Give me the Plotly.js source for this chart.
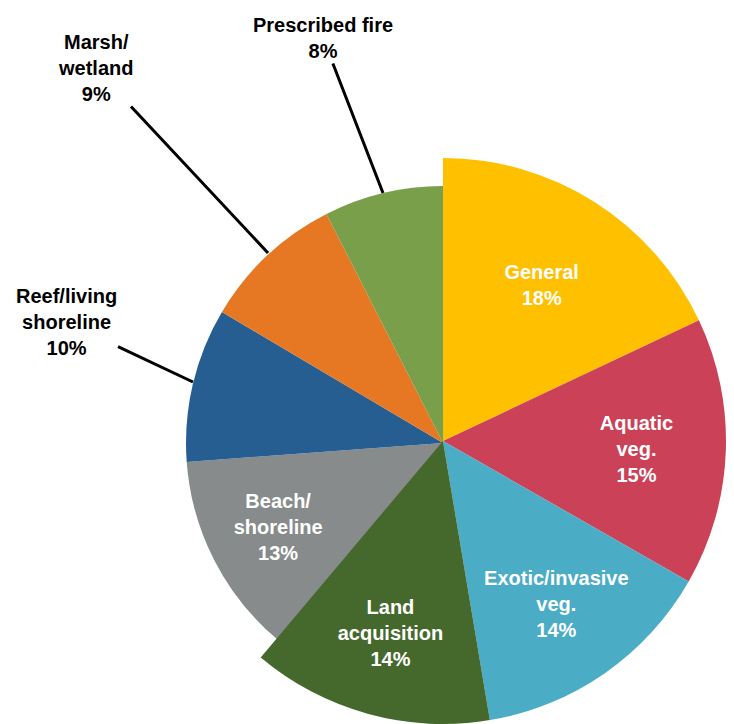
<!DOCTYPE html>
<html>
<head>
<meta charset="utf-8">
<script src="https://cdn.plot.ly/plotly-3.0.1.min.js"></script>
<style>html,body{margin:0;padding:0;background:#fff;}#chart{width:734px;height:724px;}</style>
</head>
<body>
<div id="chart"></div>
<script>
// Slice categories (clockwise from 12 o'clock)
const categories = ["General", "Aquatic<br>veg.", "Exotic/invasive<br>veg.", "Land<br>acquisition",
                    "Beach/<br>shoreline", "Reef/living<br>shoreline", "Marsh/<br>wetland", "Prescribed fire"];
// Shares (%); labels show them rounded
const shares = [18.0, 15.3, 14.1, 13.8, 12.7, 9.7, 9.0, 7.5];
const sliceColors = ["#FFC000", "#CB4157", "#4BACC6", "#45692C", "#878B8B", "#265E91", "#E67823", "#7A9F4B"];
// Which slices reach the larger radius
const largeSlice = [true, true, true, true, false, false, false, false];
// Which slices carry their label inside the slice
const insideLabel = [true, true, true, true, true, false, false, false];

const W = 734, H = 724;
const cx = 443, cy = 443;
const rBig = 285, rSmall = 257;

function domainFor(r) {
  const top = cy - r, bottom = Math.min(cy + r, H);
  return {
    x: [(cx - r) / W, Math.min(cx + r, W) / W],
    y: [1 - bottom / H, 1 - top / H]
  };
}

function makePie(isBig) {
  return {
    type: 'pie',
    labels: categories,
    values: shares,
    sort: false,
    direction: 'clockwise',
    rotation: 0,
    domain: domainFor(isBig ? rBig : rSmall),
    marker: {
      colors: sliceColors.map((c, i) => (largeSlice[i] === isBig) ? c : 'rgba(0,0,0,0)'),
      line: {width: 0}
    },
    texttemplate: categories.map((c, i) =>
      (largeSlice[i] === isBig && insideLabel[i]) ? '%{label}<br>%{value:.0f}%' : ''),
    textposition: 'inside',
    insidetextorientation: 'horizontal',
    insidetextfont: {family: 'Liberation Sans, Arial, sans-serif', size: 20, color: '#ffffff', weight: 'bold'},
    hoverinfo: 'skip',
    showlegend: false
  };
}

// Outside labels with leader lines: [category index, label centre px, line end px]
const outsideLabels = [
  [5, [66, 322], [193, 382]],
  [6, [95, 68], [268, 253]],
  [7, [323, 38], [383, 193]]
];

const annotations = outsideLabels.map(([i, c, tip]) => ({
  xref: 'paper', yref: 'paper',
  x: tip[0] / W, y: 1 - tip[1] / H,
  ax: c[0] - tip[0], ay: c[1] - tip[1],
  axref: 'pixel', ayref: 'pixel',
  text: categories[i] + '<br>' + shares[i].toFixed(0) + '%',
  showarrow: true, arrowhead: 0, arrowwidth: 3, arrowcolor: '#000000',
  font: {family: 'Liberation Sans, Arial, sans-serif', size: 20, color: '#000000', weight: 'bold'},
  align: 'center'
}));

const layout = {
  width: W, height: H,
  margin: {l: 0, r: 0, t: 0, b: 0},
  paper_bgcolor: '#ffffff',
  showlegend: false,
  annotations: annotations
};

Plotly.newPlot('chart', [makePie(false), makePie(true)], layout, {displayModeBar: false, staticPlot: true});
</script>
</body>
</html>
